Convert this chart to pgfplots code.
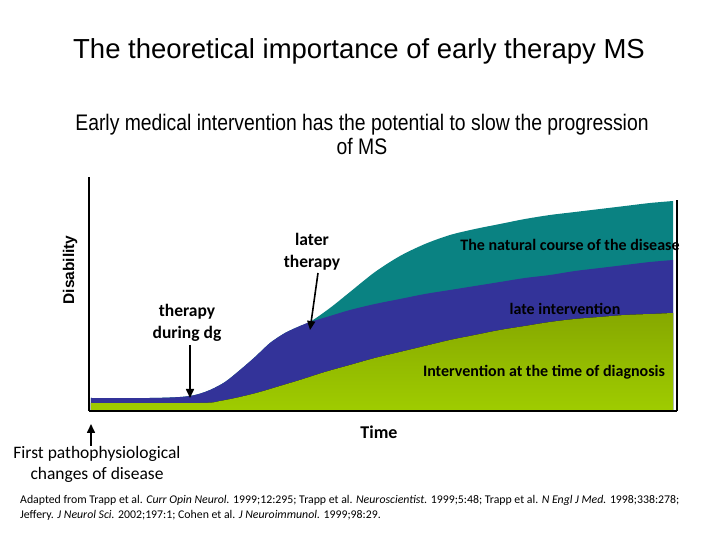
\documentclass[border=0pt]{standalone}
\usepackage{fontspec}
\setmainfont{Carlito}
\newfontfamily\arial{Liberation Sans}
\newfontfamily\narrow[FakeStretch=0.86]{Liberation Sans}
\usepackage{pgfplots}
\pgfplotsset{compat=1.18}
\usepgfplotslibrary{fillbetween}
\usetikzlibrary{arrows.meta}
\definecolor{tealc}{HTML}{0A8282}
\definecolor{bluec}{HTML}{333399}
\definecolor{grtop}{HTML}{86A800}
\definecolor{grbot}{HTML}{9FCC00}
\begin{document}
\begin{tikzpicture}
\begin{axis}[
  scale only axis, width=588pt, height=234pt,
  xmin=89, xmax=677, ymin=129, ymax=363,
  axis lines=left, axis line style={-, line width=2pt, black},
  xtick=\empty, ytick=\empty,
  enlargelimits=false, clip=false,
]
% natural course (teal)
\addplot[name path=teal, draw=none, smooth] coordinates {
 (91,142) (150,142) (180,143) (195,145) (210,150) (225,158) (240,170) (255,183)
 (270,197) (285,207) (300,214) (310,218) (330,232) (350,248) (375,268) (400,284)
 (425,296) (450,305) (475,311) (500,316) (525,321) (550,325) (575,328) (600,331)
 (625,334) (650,337) (673,339)};
% late intervention (blue)
\addplot[name path=blue, draw=none, smooth] coordinates {
 (91,142) (150,142) (180,143) (195,145) (210,150) (225,158) (240,170) (255,183)
 (270,197) (285,207) (300,214) (310,218) (330,224) (350,230) (375,236) (400,241)
 (425,246) (450,250) (475,254) (500,258) (525,262) (550,265) (575,269) (600,272)
 (625,275) (650,278) (673,280)};
% intervention at diagnosis (green)
\addplot[name path=green, draw=none, smooth] coordinates {
 (91,137) (200,137) (220,139) (240,143) (260,148) (280,154) (300,160) (325,168)
 (350,175) (375,182) (400,188) (425,194) (450,200) (475,205) (500,210) (525,214)
 (550,218) (575,221) (600,223) (625,225) (650,226) (673,227)};
\addplot[name path=base, draw=none] coordinates {(91,130) (673,130)};
\addplot[fill=tealc, draw=none] fill between[of=teal and base];
\addplot[fill=bluec, draw=none] fill between[of=blue and base];
\addplot[top color=grtop, bottom color=grbot, draw=none] fill between[of=green and base];
% right border line
\draw[line width=2pt] (axis cs:677,129) -- (axis cs:677,340);
% arrows
\draw[line width=1.6pt, -{Triangle[length=9pt,width=8pt]}] (axis cs:318,267) -- (axis cs:310,210);
\draw[line width=1.6pt, -{Triangle[length=9pt,width=8pt]}] (axis cs:190,195) -- (axis cs:190,142);
\draw[line width=1.6pt, -{Triangle[length=9pt,width=8pt]}] (axis cs:91,94) -- (axis cs:91,116);
% texts
\node[font=\arial\fontsize{27.5}{32}\selectfont] at (axis cs:359,489) {The theoretical importance of early therapy MS};
\node[font=\narrow\fontsize{22.5}{24}\selectfont, align=center] at (axis cs:362,406) {Early medical intervention has the potential to slow the progression\\of MS};
\node[font=\arial\bfseries\fontsize{15.5}{18}\selectfont, rotate=90] at (axis cs:70,270) {Disability};
\node[font=\bfseries\fontsize{17.5}{22}\selectfont, align=center] at (axis cs:312,288) {later\\therapy};
\node[font=\bfseries\fontsize{17.5}{22}\selectfont, align=center] at (axis cs:187,217) {therapy\\during dg};
\node[font=\bfseries\fontsize{16}{18}\selectfont] at (axis cs:570,295) {The natural course of the disease};
\node[font=\bfseries\fontsize{16}{18}\selectfont] at (axis cs:565,231) {late intervention};
\node[font=\bfseries\fontsize{16}{18}\selectfont] at (axis cs:544,168) {Intervention at the time of diagnosis};
\node[font=\bfseries\fontsize{18}{20}\selectfont] at (axis cs:379,108) {Time};
\node[font=\fontsize{17.5}{21}\selectfont, align=center] at (axis cs:97,76) {First pathophysiological\\changes of disease};
\node[font=\fontsize{11.8}{15}\selectfont, align=left, anchor=north west, inner sep=0pt] at (axis cs:20,45) {Adapted from Trapp et al. \textit{Curr Opin Neurol.} 1999;12:295; Trapp et al. \textit{Neuroscientist.} 1999;5:48; Trapp et al. \textit{N Engl J Med.} 1998;338:278;\\Jeffery. \textit{J Neurol Sci.} 2002;197:1; Cohen et al. \textit{J Neuroimmunol.} 1999;98:29.};
\path (axis cs:0,0) rectangle (axis cs:720,540);
\end{axis}
\end{tikzpicture}
\end{document}
